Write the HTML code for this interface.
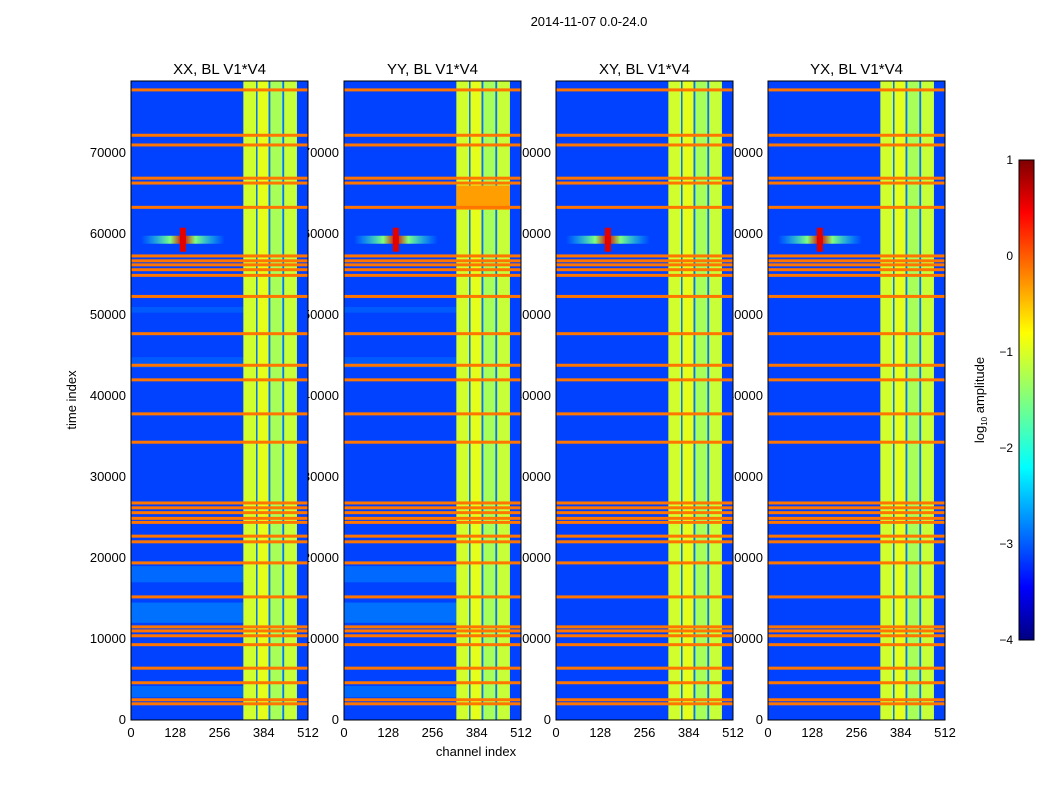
<!DOCTYPE html>
<html><head><meta charset="utf-8"><style>
body{margin:0;background:#fff;}
svg{display:block;font-family:"Liberation Sans",sans-serif;}
</style></head><body>
<svg id="fig" width="1050" height="800" xmlns="http://www.w3.org/2000/svg">
<defs>
<linearGradient id="cbgrad" x1="0" y1="1" x2="0" y2="0">
<stop offset="0" stop-color="#00007f"/><stop offset="0.11" stop-color="#0000ff"/>
<stop offset="0.36" stop-color="#00ffff"/><stop offset="0.5" stop-color="#7fff7f"/>
<stop offset="0.64" stop-color="#ffff00"/><stop offset="0.89" stop-color="#ff0000"/>
<stop offset="1" stop-color="#7f0000"/></linearGradient>
<linearGradient id="src" x1="0" y1="0" x2="1" y2="0">
<stop offset="0" stop-color="#00ffff" stop-opacity="0"/><stop offset="0.35" stop-color="#7fff7f"/>
<stop offset="0.5" stop-color="#dd0000"/><stop offset="0.65" stop-color="#7fff7f"/>
<stop offset="1" stop-color="#00ffff" stop-opacity="0"/></linearGradient>
</defs>
<text x="589" y="26" font-size="13" text-anchor="middle">2014-11-07 0.0-24.0</text>
<text x="76" y="400" font-size="13" text-anchor="middle" transform="rotate(-90 76 400)">time index</text>
<text x="476" y="756" font-size="13" text-anchor="middle">channel index</text>
<g id="labels"></g><g id="panels"></g>
<g>
<rect x="1019" y="160" width="15" height="480" fill="url(#cbgrad)" stroke="#000"/>
<text x="984" y="400" font-size="13" text-anchor="middle" transform="rotate(-90 984 400)">log<tspan font-size="8" dy="3">10</tspan><tspan dy="-3"> amplitude</tspan></text>
</g>
<g id="cbticks"></g>
</svg>
<script>
const NS="http://www.w3.org/2000/svg";
const panelTitles=["XX, BL V1*V4","YY, BL V1*V4","XY, BL V1*V4","YX, BL V1*V4"];
const panelLeft=[131,344,556,768];
const yTicks=[0,10000,20000,30000,40000,50000,60000,70000];
const xTicks=[0,128,256,384,512];
const cbTicks=[1,0,-1,-2,-3,-4];
const backgroundLevel=-3.05;
const bandColumns=[[325,362,-1.1],[362,366,-2.8],[366,398,-1.0],[398,403,-2.8],[403,438,-1.3],[438,443,-2.8],[443,480,-1.15]];
const rfiRows=[77800,72200,71000,66900,66300,63300,57300,56700,56200,55600,54900,52300,47700,43800,42000,37800,34300,26800,26200,25600,24900,24400,22700,22000,19400,15200,11500,11000,10400,9300,6400,4600,2500,2000];
const rfiLevel=-0.2;
const faintBands=[[17000,19000,-2.5],[12000,14500,-2.4],[2800,4200,-2.5],[43500,44800,-2.7],[50300,51000,-2.7]];
const brightBlock=[[1,63000,66000,-0.4]];
const sourceTime=59300, sourceChan=150;
const W=177,TOP=81,BOT=720,YMAX=78900;
const ys=t=>BOT-(t/YMAX)*(BOT-TOP);
const xs=(i,c)=>panelLeft[i]+c/512*W;
function jet(v){const t=(v+4)/5,c=x=>Math.round(255*Math.max(0,Math.min(1,x)));
return `rgb(${c(1.5-Math.abs(4*t-3))},${c(1.5-Math.abs(4*t-2))},${c(1.5-Math.abs(4*t-1))})`;}
function el(tag,a,p){const e=document.createElementNS(NS,tag);for(const k in a)e.setAttribute(k,a[k]);p.appendChild(e);return e;}
const L=document.getElementById('labels'),P=document.getElementById('panels');
panelLeft.forEach((x0,i)=>{
 yTicks.forEach(t=>{const e=el('text',{x:x0-5,y:ys(t)+4,'font-size':13,'text-anchor':'end'},L);e.textContent=t;
 
 });
 xTicks.forEach(c=>{const e=el('text',{x:xs(i,c),y:737,'font-size':13,'text-anchor':'middle'},L);e.textContent=c;
 
 });
 const tt=el('text',{x:x0+W/2,y:74,'font-size':15,'text-anchor':'middle'},L);tt.textContent=panelTitles[i];
 
 
});
panelLeft.forEach((x0,i)=>{
 const g=el('g',{},P);
 
 
 el('rect',{x:x0,y:TOP,width:W,height:BOT-TOP,fill:jet(backgroundLevel)},g);
 if(i<2) faintBands.forEach(b=>{const r=el('rect',{x:x0,y:ys(b[1]),width:xs(i,325)-x0,height:ys(b[0])-ys(b[1]),fill:jet(b[2]),opacity:0.35},g);
 
 });
 bandColumns.forEach(b=>{const r=el('rect',{x:xs(i,b[0]),y:TOP,width:xs(i,b[1])-xs(i,b[0]),height:BOT-TOP,fill:jet(b[2])},g);
 
 });
 brightBlock.filter(b=>b[0]===i).forEach(b=>{const r=el('rect',{x:xs(i,325),y:ys(b[2]),width:xs(i,480)-xs(i,325),height:ys(b[1])-ys(b[2]),fill:jet(b[3])},g);
 
 });
 rfiRows.forEach(t=>{const r=el('rect',{x:x0,y:ys(t)-1.5,width:W,height:3,fill:jet(rfiLevel)},g);
 
 });
 const s=el('rect',{x:xs(i,sourceChan)-42,y:ys(sourceTime)-4,width:84,height:8,fill:'url(#src)'},g);
 
 
 el('rect',{x:xs(i,sourceChan)-3,y:ys(sourceTime)-12,width:6,height:24,fill:jet(0.5)},g);
 el('rect',{x:x0,y:TOP,width:W,height:BOT-TOP,fill:'none',stroke:'#000'},g);
});
const C=document.getElementById('cbticks');
cbTicks.forEach(v=>{const y=160+(1-v)*96;const e=el('text',{x:1013,y:y+4,'font-size':12,'text-anchor':'end'},C);
 e.textContent=v<0?'\u2212'+(-v):v;
 
 });
</script>
</body></html>
